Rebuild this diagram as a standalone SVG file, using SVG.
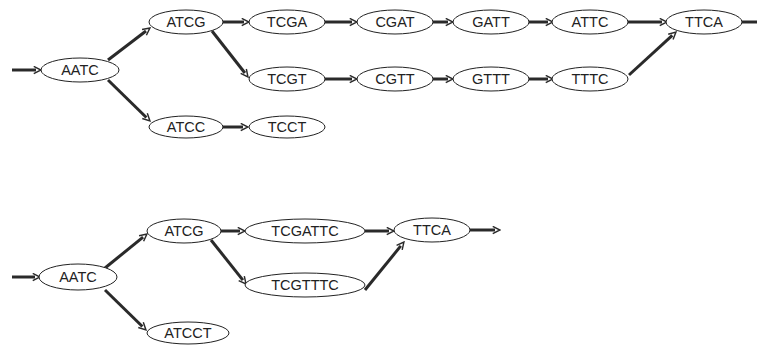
<svg xmlns="http://www.w3.org/2000/svg" width="757" height="349" viewBox="0 0 757 349">
<style>
.n ellipse{fill:#fff;stroke:#222;stroke-width:1}
.n text{font-family:"Liberation Sans",Arial,sans-serif;font-size:14.5px;fill:#222;text-anchor:middle;dominant-baseline:central}
.e line{stroke:#2a2a2a;stroke-width:3;fill:none}
.e line.a{marker-end:url(#ah)}
</style>
<defs>
<marker id="ah" viewBox="0 0 10 10" refX="3.5" refY="5" markerWidth="9" markerHeight="9" markerUnits="userSpaceOnUse" orient="auto">
<path d="M1,1 L9,5 L1,9" fill="none" stroke="#2a2a2a" stroke-width="1.6"/>
</marker>
</defs>
<rect width="757" height="349" fill="#fff"/>
<g id="connectors" class="e">
<line class="a" x1="12" y1="70" x2="36" y2="70"/>
<line class="a" x1="108" y1="60" x2="146" y2="31"/>
<line class="a" x1="108" y1="80" x2="146.4" y2="117.5"/>
<line class="a" x1="223" y1="22" x2="244" y2="22"/>
<line class="a" x1="212" y1="31" x2="244.9" y2="73"/>
<line class="a" x1="325" y1="22" x2="352" y2="22"/>
<line class="a" x1="433" y1="22" x2="448" y2="22"/>
<line class="a" x1="529" y1="22" x2="548" y2="22"/>
<line class="a" x1="628" y1="22" x2="662" y2="22"/>
<line x1="742" y1="22" x2="757" y2="22"/>
<line class="a" x1="325" y1="79" x2="352" y2="79"/>
<line class="a" x1="433" y1="79" x2="448" y2="79"/>
<line class="a" x1="529" y1="79" x2="548" y2="79"/>
<line class="a" x1="629" y1="75" x2="672.3" y2="35.4"/>
<line class="a" x1="222" y1="127" x2="243" y2="127"/>
<line class="a" x1="12" y1="277" x2="35" y2="277"/>
<line class="a" x1="105" y1="268" x2="143.1" y2="237.1"/>
<line class="a" x1="105" y1="290" x2="142.4" y2="326.5"/>
<line class="a" x1="221" y1="231" x2="240" y2="231"/>
<line class="a" x1="211" y1="240" x2="242.9" y2="280.1"/>
<line class="a" x1="365" y1="231" x2="389" y2="231"/>
<line class="a" x1="365" y1="290" x2="400.8" y2="245.9"/>
<line class="a" x1="470" y1="230" x2="495" y2="230"/>
</g>
<g id="t-aatc" class="n"><ellipse cx="80" cy="70" rx="39" ry="12"/><text x="80" y="70">AATC</text></g>
<g id="t-atcg" class="n"><ellipse cx="186" cy="22" rx="37" ry="12"/><text x="186" y="22">ATCG</text></g>
<g id="t-tcga" class="n"><ellipse cx="287" cy="22" rx="38" ry="12"/><text x="287" y="22">TCGA</text></g>
<g id="t-cgat" class="n"><ellipse cx="395" cy="22" rx="38" ry="12"/><text x="395" y="22">CGAT</text></g>
<g id="t-gatt" class="n"><ellipse cx="491" cy="22" rx="38" ry="12"/><text x="491" y="22">GATT</text></g>
<g id="t-attc" class="n"><ellipse cx="590" cy="22" rx="38" ry="12"/><text x="590" y="22">ATTC</text></g>
<g id="t-ttca" class="n"><ellipse cx="704" cy="22" rx="38" ry="12"/><text x="704" y="22">TTCA</text></g>
<g id="t-tcgt" class="n"><ellipse cx="287" cy="79" rx="38" ry="12"/><text x="287" y="79">TCGT</text></g>
<g id="t-cgtt" class="n"><ellipse cx="395" cy="79" rx="38" ry="12"/><text x="395" y="79">CGTT</text></g>
<g id="t-gttt" class="n"><ellipse cx="491" cy="79" rx="38" ry="12"/><text x="491" y="79">GTTT</text></g>
<g id="t-tttc" class="n"><ellipse cx="590" cy="79" rx="38" ry="12"/><text x="590" y="79">TTTC</text></g>
<g id="t-atcc" class="n"><ellipse cx="186" cy="127" rx="37" ry="11"/><text x="186" y="127">ATCC</text></g>
<g id="t-tcct" class="n"><ellipse cx="287" cy="127" rx="38" ry="11"/><text x="287" y="127">TCCT</text></g>
<g id="b-aatc" class="n"><ellipse cx="78" cy="277" rx="39" ry="13"/><text x="78" y="277">AATC</text></g>
<g id="b-atcg" class="n"><ellipse cx="184" cy="231" rx="37" ry="12"/><text x="184" y="231">ATCG</text></g>
<g id="b-tcgattc" class="n"><ellipse cx="305" cy="231" rx="60" ry="12"/><text x="305" y="231">TCGATTC</text></g>
<g id="b-ttca" class="n"><ellipse cx="432" cy="230" rx="38" ry="12"/><text x="432" y="230">TTCA</text></g>
<g id="b-tcgtttc" class="n"><ellipse cx="305" cy="285" rx="60" ry="12"/><text x="305" y="285">TCGTTTC</text></g>
<g id="b-atcct" class="n"><ellipse cx="188" cy="333" rx="41" ry="11"/><text x="188" y="333">ATCCT</text></g>
</svg>
